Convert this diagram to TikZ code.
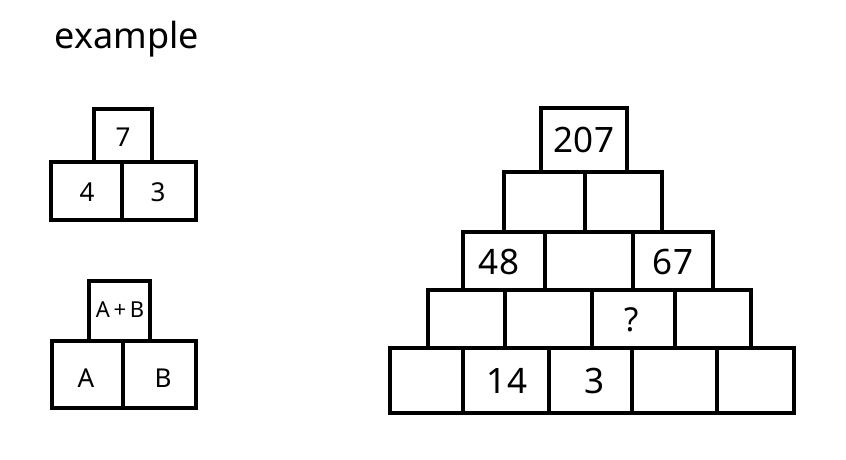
\documentclass[tikz,border=0pt]{standalone}
\usepackage{fontspec}
\setmainfont{Noto Sans}

\tikzset{
  cell/.style={draw=black, line width=4.5pt},
  bignum/.style={font=\fontsize{35}{40}\selectfont},
  smallnum/.style={font=\fontsize{26}{30}\selectfont},
}

\begin{document}
\begin{tikzpicture}[x=1pt, y=-1pt]
\useasboundingbox (0,0) rectangle (846,459);

% Title
\node[font=\fontsize{36}{40}\selectfont] (title) at (127,39) {example};

% Example 1: 7 = 4 + 3
\draw[cell] (94,109) rectangle (152,162);
\draw[cell] (51,162) rectangle (122,220);
\draw[cell] (122,162) rectangle (196,220);
\node[smallnum] (exsum) at (123,137) {7};
\node[smallnum] (exleft) at (87,192) {4};
\node[smallnum] (exright) at (158,192) {3};

% Example 2: A+B
\draw[cell] (89,281) rectangle (150,341);
\draw[cell] (52,341) rectangle (123,408);
\draw[cell] (123,341) rectangle (196,408);
\node[font=\fontsize{22}{26}\selectfont] (absum) at (120,310) {A\,+\,B};
\node[smallnum] (aleft) at (86,378) {A};
\node[smallnum] (bright) at (163,378) {B};

% Pyramid: rows from top to bottom
\draw[cell] (541,108) rectangle (627,172);
\foreach \a/\b in {504/585, 585/662}
  \draw[cell] (\a,172) rectangle (\b,232);
\foreach \a/\b in {463/545, 545/633, 633/713}
  \draw[cell] (\a,232) rectangle (\b,290);
\foreach \a/\b in {428/505, 505/592, 592/675, 675/751}
  \draw[cell] (\a,290) rectangle (\b,348);
\foreach \a/\b in {390/463, 463/549, 549/632, 632/717, 717/794}
  \draw[cell] (\a,348) rectangle (\b,413);

% Given numbers
\node[bignum] (top) at (584,140) {207};
\node[bignum] (rowthreea) at (499,262) {48};
\node[bignum] (rowthreec) at (673,262) {67};
\node[font=\fontsize{33}{36}\selectfont] (unknown) at (632,320) {?};
\node[bignum] (basea) at (507,381) {14};
\node[bignum] (baseb) at (595,381) {3};

\end{tikzpicture}
\end{document}
